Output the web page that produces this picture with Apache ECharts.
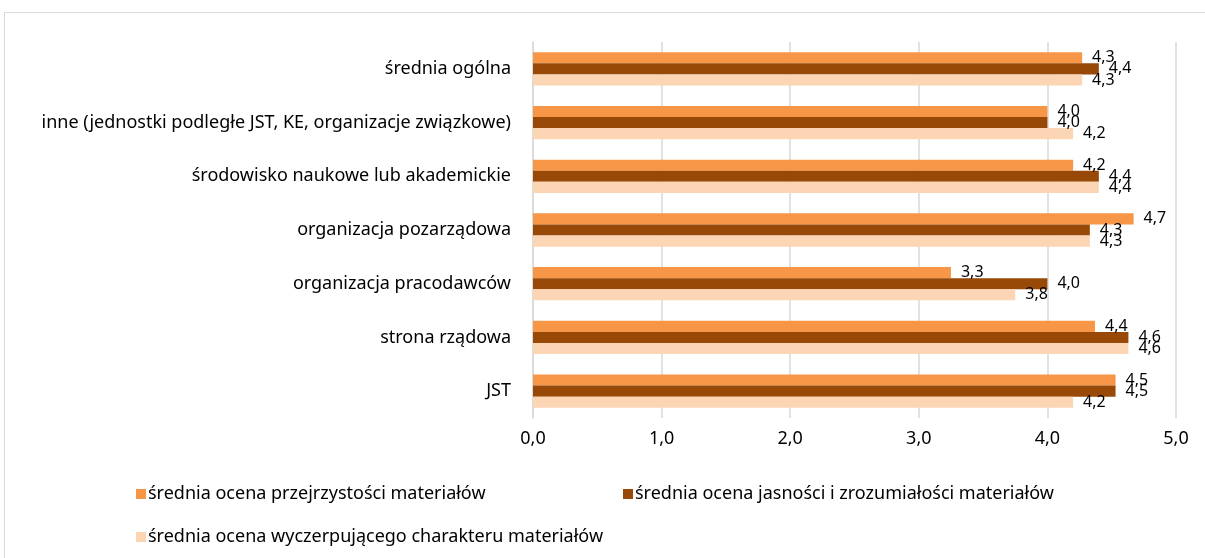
<!DOCTYPE html>
<html>
<head>
<meta charset="utf-8">
<script src="https://cdn.jsdelivr.net/npm/echarts@6/dist/echarts.min.js"></script>
<style>
  html, body { margin: 0; padding: 0; background: #fff; }
  #frame { position: absolute; left: 4px; top: 12px; width: 1220px; height: 580px;
           border: 1px solid #d9d9d9; box-sizing: border-box; }
  #chart { position: absolute; left: 0; top: 0; width: 1205px; height: 558px; }
</style>
</head>
<body>
<div id="frame"></div>
<div id="chart"></div>
<script>
// Respondent groups (top to bottom)
const categories = [
  'średnia ogólna',
  'inne (jednostki podległe JST, KE, organizacje związkowe)',
  'środowisko naukowe lub akademickie',
  'organizacja pozarządowa',
  'organizacja pracodawców',
  'strona rządowa',
  'JST'
];

const seriesNames = [
  'średnia ocena przejrzystości materiałów',
  'średnia ocena jasności i zrozumiałości materiałów',
  'średnia ocena wyczerpującego charakteru materiałów'
];

// Average ratings per group
const przejrzystosc = [4.27, 4.0, 4.2, 4.67, 3.25, 4.37, 4.53];
const jasnosc       = [4.40, 4.0, 4.4, 4.33, 4.0, 4.63, 4.53];
const wyczerpujacy  = [4.27, 4.2, 4.4, 4.33, 3.75, 4.63, 4.2];

const xTicks = [0, 1, 2, 3, 4, 5];

const colors = ['#F79646', '#984807', '#FCD5B5'];
const FONT = 'Noto Sans';
const fmt = v => v.toFixed(1).replace('.', ',');

const chart = echarts.init(document.getElementById('chart'), null, { renderer: 'canvas' });

const values = [przejrzystosc, jasnosc, wyczerpujacy];

chart.setOption({
  animation: false,
  backgroundColor: 'transparent',
  textStyle: { fontFamily: FONT },
  grid: { left: 533, right: 29, top: 42, bottom: 140, containLabel: false },
  xAxis: {
    type: 'value',
    min: xTicks[0],
    max: xTicks[xTicks.length - 1],
    interval: 1,
    axisLine: { show: false },
    axisTick: { show: false },
    splitLine: { show: true, lineStyle: { color: '#d9d9d9', width: 1.5 } },
    axisLabel: { formatter: v => fmt(v), color: '#000', fontSize: 18, fontFamily: FONT, margin: 12 }
  },
  yAxis: {
    type: 'category',
    inverse: true,
    data: categories,
    axisLine: { show: true, lineStyle: { color: '#d9d9d9', width: 1.5 } },
    axisTick: { show: false },
    axisLabel: { color: '#000', fontSize: 18, fontFamily: FONT, margin: 22 }
  },
  legend: [0, 1, 2].map(i => ({
    data: [seriesNames[i]],
    left: [131, 618, 131][i],
    top: [480, 480, 523][i],
    icon: 'rect',
    itemWidth: 10,
    itemHeight: 10,
    itemGap: 0,
    textStyle: { color: '#000', fontSize: 18, fontFamily: FONT, padding: [0, 0, 0, -3] }
  })),
  series: values.map((vals, i) => ({
    name: seriesNames[i],
    type: 'bar',
    data: vals,
    barGap: '0%',
    barCategoryGap: '38%',
    itemStyle: { color: colors[i] },
    label: {
      show: true,
      position: 'right',
      distance: 10,
      color: '#000',
      fontSize: 16,
      fontFamily: FONT,
      formatter: p => fmt(p.value)
    }
  }))
});
</script>
</body>
</html>
